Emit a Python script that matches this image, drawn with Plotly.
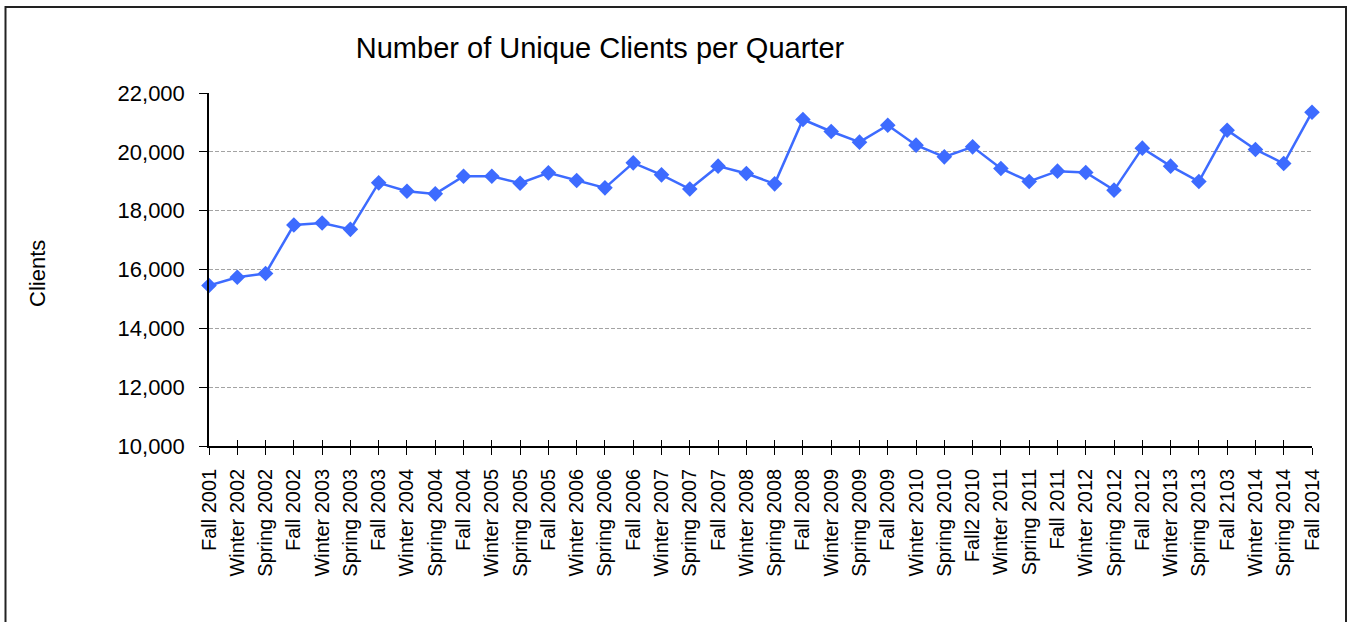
import plotly.graph_objects as go

quarters = ["Fall 2001", "Winter 2002", "Spring 2002", "Fall 2002", "Winter 2003", "Spring 2003",
            "Fall 2003", "Winter 2004", "Spring 2004", "Fall 2004", "Winter 2005", "Spring 2005",
            "Fall 2005", "Winter 2006", "Spring 2006", "Fall 2006", "Winter 2007", "Spring 2007",
            "Fall 2007", "Winter 2008", "Spring 2008", "Fall 2008", "Winter 2009", "Spring 2009",
            "Fall 2009", "Winter 2010", "Spring 2010", "Fall2 2010", "Winter 2011", "Spring 2011",
            "Fall 2011", "Winter 2012", "Spring 2012", "Fall 2012", "Winter 2013", "Spring 2013",
            "Fall 2103", "Winter 2014", "Spring 2014", "Fall 2014"]

clients = [15455, 15739, 15864, 17512, 17580, 17365,
           18945, 18662, 18571, 19172, 19172, 18934,
           19285, 19025, 18775, 19626, 19217, 18735,
           19513, 19263, 18912, 21099, 20691, 20329,
           20906, 20227, 19830, 20170, 19433, 18992,
           19343, 19298, 18697, 20125, 19513, 18992,
           20736, 20079, 19603, 21348]

y_ticks = [10000, 12000, 14000, 16000, 18000, 20000, 22000]

FONT = "Liberation Sans, Arial, sans-serif"
BLUE = "#3D6BFF"

fig = go.Figure()
fig.add_trace(go.Scatter(
    x=quarters, y=clients, mode="lines+markers",
    line=dict(color=BLUE, width=2.5),
    marker=dict(symbol="diamond", size=12, color=BLUE),
    cliponaxis=False, showlegend=False, hoverinfo="x+y",
))
# helper trace for inner half of crossing x ticks
fig.add_trace(go.Scatter(x=quarters, y=clients, xaxis="x2", mode="none",
                         showlegend=False, hoverinfo="skip"))

W, H = 1351, 622
L, R, T, B = 209, 1312, 93, 446
pw, ph = R - L, B - T

fig.update_layout(
    width=W, height=H,
    margin=dict(l=L, r=W - R, t=T, b=H - B, autoexpand=False),
    paper_bgcolor="white", plot_bgcolor="white",
    font=dict(family=FONT, color="black"),
    title=dict(text="Number of Unique Clients per Quarter", x=600 / W, xanchor="center",
               y=1 - 48 / H, yanchor="middle", font=dict(size=29, family=FONT, color="black")),
    xaxis=dict(type="category", categoryorder="array", categoryarray=quarters,
               range=[0, len(quarters) - 1], showgrid=False, zeroline=False,
               showline=True, linecolor="black", linewidth=1.5,
               ticks="outside", ticklen=7, tickcolor="black", tickwidth=1.2,
               ticklabelstandoff=6,
               tickangle=-90, tickfont=dict(size=20, family=FONT, color="black")),
    xaxis2=dict(type="category", categoryorder="array", categoryarray=quarters,
                overlaying="x", matches="x", showgrid=False, zeroline=False,
                showline=False, showticklabels=False, side="bottom",
                ticks="inside", ticklen=6, tickcolor="black", tickwidth=1.2),
    yaxis=dict(range=[10000, 22000], tickvals=y_ticks, tickformat=",d",
               showgrid=True, gridcolor="#a3a3a3", griddash="4px,2px", gridwidth=1,
               zeroline=False, showline=True, linecolor="black", linewidth=1.5,
               ticks="outside", ticklen=8, tickcolor="black", tickwidth=1.2,
               ticklabelstandoff=10,
               tickfont=dict(size=22, family=FONT, color="black")),
    hovermode="closest",
)

fig.add_annotation(text="Clients", xref="paper", yref="paper",
                   x=(37 - L) / pw, y=(B - 273) / ph, xanchor="center", yanchor="middle",
                   textangle=-90, showarrow=False,
                   font=dict(size=22, family=FONT, color="black"))

# outer frame of the chart
fig.add_shape(type="rect", xref="paper", yref="paper",
              x0=(5.5 - L) / pw, x1=(1346 - L) / pw,
              y0=(B - 640) / ph, y1=(B - 7) / ph,
              line=dict(color="#222222", width=2), fillcolor="rgba(0,0,0,0)", layer="below")

fig.write_html("out.html", config={"displayModeBar": False},
               post_script="document.body.style.margin='0';")
